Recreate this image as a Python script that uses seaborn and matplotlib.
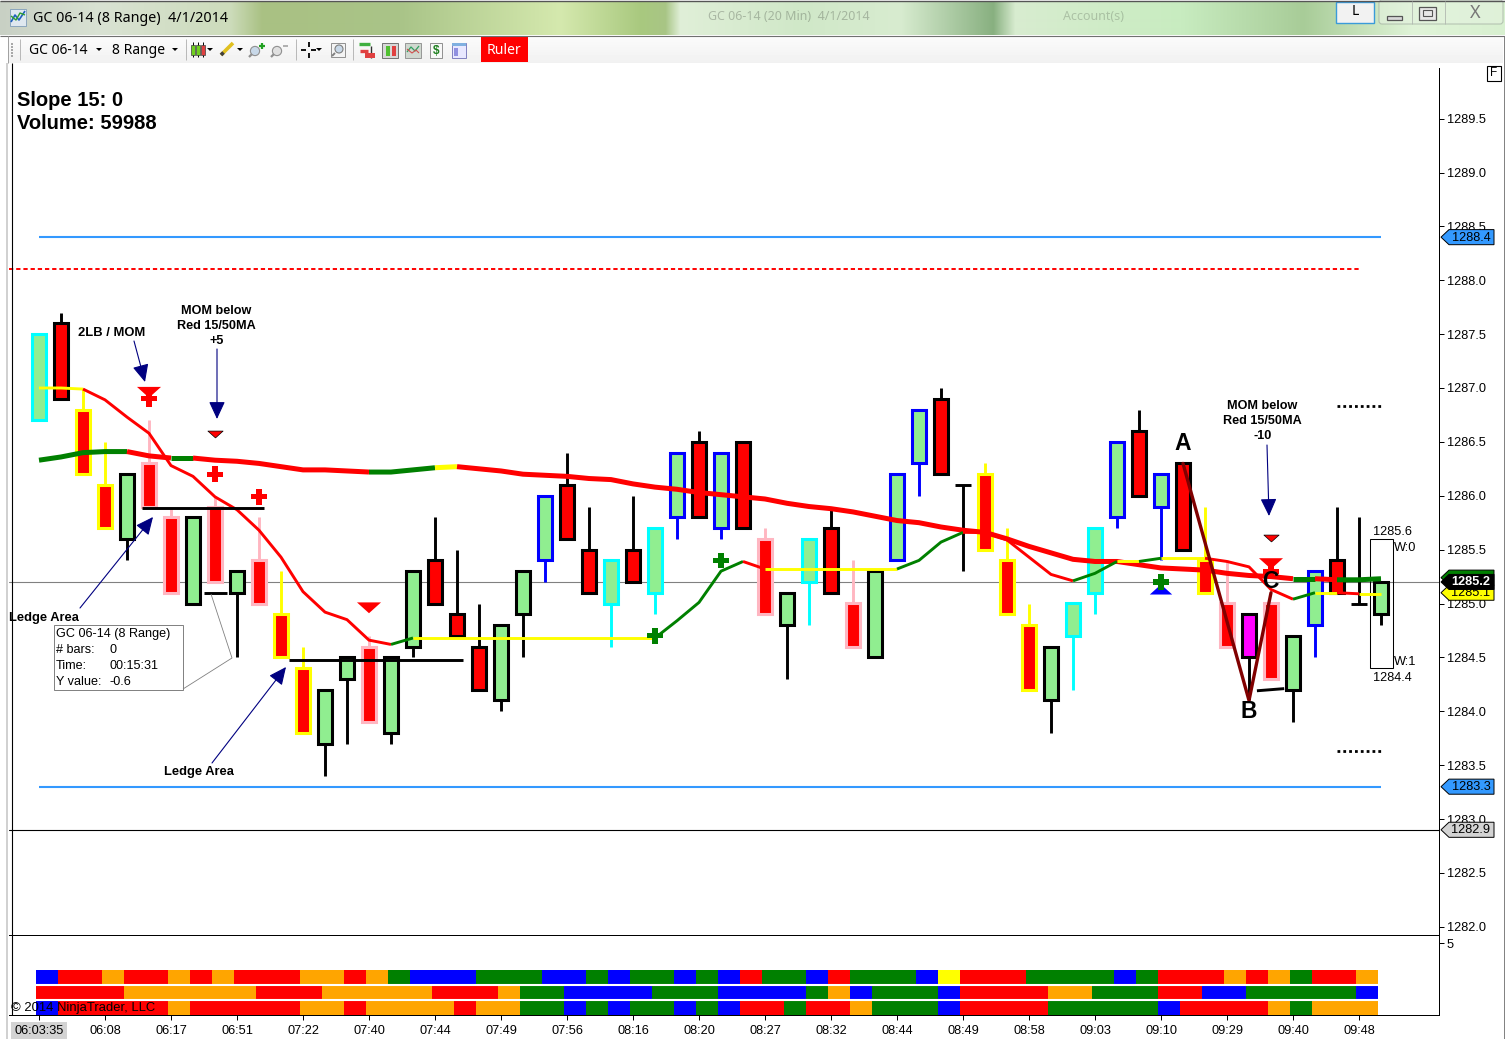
import numpy as np
import pandas as pd
import matplotlib
matplotlib.use("Agg")
import matplotlib.pyplot as plt
import matplotlib.transforms as mtrans
from matplotlib.colors import ListedColormap
from matplotlib.markers import MarkerStyle
from matplotlib.patches import Rectangle, Polygon, FancyBboxPatch
from matplotlib.path import Path
import seaborn as sns

# ---------- data ----------
body_top = [1287.5,1287.6,1286.8,1286.1,1286.2,1286.3,1285.8,1285.8,1285.9,1285.3,1285.4,1284.9,1284.4,1284.2,1284.5,1284.6,1284.5,1285.3,1285.4,1284.9,1284.6,1284.8,1285.3,1286.0,1286.1,1285.5,1285.4,1285.5,1285.7,1286.4,1286.5,1286.4,1286.5,1285.6,1285.1,1285.6,1285.7,1285.0,1285.3,1286.2,1286.8,1286.9,1286.1,1286.2,1285.4,1284.8,1284.6,1285.0,1285.7,1286.5,1286.6,1286.2,1286.3,1285.4,1285.0,1284.9,1285.0,1284.7,1285.3,1285.4,1285.0,1285.2]
body_bot = [1286.7,1286.9,1286.2,1285.7,1285.6,1285.9,1285.1,1285.0,1285.2,1285.1,1285.0,1284.5,1283.8,1283.7,1284.3,1283.9,1283.8,1284.6,1285.0,1284.7,1284.2,1284.1,1284.9,1285.4,1285.6,1285.1,1285.0,1285.2,1285.1,1285.8,1285.8,1285.7,1285.7,1284.9,1284.8,1285.2,1285.1,1284.6,1284.5,1285.4,1286.3,1286.2,1286.1,1285.5,1284.9,1284.2,1284.1,1284.7,1285.1,1285.8,1286.0,1285.9,1285.5,1285.1,1284.6,1284.5,1284.3,1284.2,1284.8,1285.1,1285.0,1284.9]
high = [1287.5,1287.7,1287.0,1286.5,1286.2,1286.7,1285.9,1285.8,1286.0,1285.3,1285.8,1285.3,1284.6,1284.2,1284.5,1284.7,1284.5,1285.3,1285.8,1285.5,1285.0,1284.8,1285.3,1286.0,1286.4,1285.9,1285.4,1286.0,1285.7,1286.4,1286.6,1286.4,1286.5,1285.7,1285.1,1285.6,1285.9,1285.4,1285.3,1286.2,1286.8,1287.0,1286.1,1286.3,1285.7,1285.0,1284.6,1285.0,1285.7,1286.5,1286.8,1286.2,1286.3,1285.9,1285.4,1284.9,1285.0,1284.7,1285.3,1285.9,1285.8,1285.2]
low = [1286.7,1286.9,1286.2,1285.7,1285.4,1285.9,1285.1,1285.0,1285.2,1284.5,1285.0,1284.5,1283.8,1283.4,1283.7,1283.9,1283.7,1284.5,1285.0,1284.7,1284.2,1284.0,1284.5,1285.2,1285.6,1285.1,1284.6,1285.2,1284.9,1285.6,1285.8,1285.6,1285.7,1284.9,1284.3,1284.8,1285.1,1284.6,1284.5,1285.4,1286.0,1286.2,1285.3,1285.5,1284.9,1284.2,1283.8,1284.2,1284.9,1285.7,1286.0,1285.4,1285.5,1285.1,1284.6,1284.1,1284.3,1283.9,1284.5,1285.1,1285.0,1284.8]
body_kind = "GRRRGRRGRGRRRGGRGGRRRGGGRRGRGGRGRRGGRGGRKRRRGGGGRGRRRMRGGRKG"
body_kind = "GRRRGRRGRGR" "RRGGRGGRRR" "GGGRRGRGGR" "GRRGGRRGGG" "RKRRRGGGGR" "GRRRMRGGRKG"
border_kind = "CKYYKPPKPKPYYKKPKKKKKKKBKKCKCBKBKPKCKPKBBKKYYYKCCBKBKYPKPKBKKK"
ma50 = [1286.33,1286.36,1286.40,1286.41,1286.41,1286.37,1286.35,1286.35,1286.33,1286.32,1286.30,1286.27,1286.24,1286.24,1286.23,1286.22,1286.22,1286.24,1286.26,1286.27,1286.25,1286.23,1286.20,1286.19,1286.18,1286.16,1286.15,1286.11,1286.08,1286.06,1286.03,1286.01,1285.99,1285.97,1285.93,1285.90,1285.88,1285.85,1285.81,1285.77,1285.75,1285.71,1285.68,1285.66,1285.60,1285.53,1285.47,1285.41,1285.39,1285.39,1285.36,1285.33,1285.32,1285.31,1285.28,1285.26,1285.25,1285.23,1285.23,1285.22,1285.22,1285.23]
ma50_colors = "GGGGRRGRRRRRRRRGGGY" + "R"*38 + "GRGG"
ma15 = [1287.00,1287.00,1286.99,1286.89,1286.73,1286.58,1286.28,1286.18,1285.99,1285.87,1285.68,1285.43,1285.11,1284.92,1284.85,1284.66,1284.62,1284.68,1284.68,1284.68,1284.68,1284.68,1284.68,1284.68,1284.68,1284.68,1284.68,1284.68,1284.68,1284.84,1285.01,1285.30,1285.39,1285.32,1285.32,1285.32,1285.32,1285.32,1285.32,1285.32,1285.40,1285.57,1285.66,1285.66,1285.59,1285.43,1285.27,1285.21,1285.28,1285.39,1285.39,1285.42,1285.42,1285.42,1285.39,1285.34,1285.13,1285.04,1285.10,1285.10,1285.09,1285.09]
ma15_colors = "YY" + "R"*14 + "G" + "Y"*11 + "GGGG" + "R" + "Y"*6 + "GGG" + "R"*5 + "GG" + "Y" + "G" + "YY" + "RRRR" + "G" + "Y" + "R" + "Y"
abc_bars = [52, 55, 56]
abc_prices = [1286.3, 1284.1, 1285.1]
price_ticks = [1282.0,1282.5,1283.0,1283.5,1284.0,1284.5,1285.0,1285.5,1286.0,1286.5,1287.0,1287.5,1288.0,1288.5,1289.0,1289.5]
time_labels = ["06:03:35","06:08","06:17","06:51","07:22","07:40","07:44","07:49","07:56","08:16","08:20","08:27","08:32","08:44","08:49","08:58","09:03","09:10","09:29","09:40","09:48"]
strip_top = "B"+"RR"+"O"+"RR"+"O"+"R"+"O"+"RRR"+"OO"+"R"+"O"+"G"+"BBB"+"GGG"+"BB"+"G"+"B"+"GG"+"B"+"G"+"B"+"R"+"GG"+"B"+"R"+"GGG"+"B"+"Y"+"RRR"+"GGGG"+"B"+"G"+"RRR"+"O"+"R"+"O"+"G"+"RR"+"O"
strip_mid = "RRRR"+"OOOOOO"+"RRR"+"OOOOO"+"RRR"+"O"+"GG"+"BBBB"+"GGG"+"BBBB"+"G"+"O"+"B"+"GGG"+"B"+"RRRR"+"OO"+"GGG"+"RR"+"BB"+"GGGGG"+"B"
strip_bot = "B"+"RRRRR"+"O"+"RRRRR"+"OO"+"R"+"OOOO"+"R"+"OO"+"GG"+"B"+"G"+"B"+"GG"+"B"+"G"+"B"+"RR"+"G"+"RR"+"O"+"GGG"+"B"+"RRRR"+"GGGGG"+"B"+"RRRR"+"O"+"G"+"OOO"
level_upper, level_lower = 1288.4, 1283.3
level_red = 1288.1
level_last = 1285.2
level_black = 1282.9
dots_hi, dots_lo = 1286.83, 1283.63
wbox_hi, wbox_lo = 1285.6, 1284.4
ledges = [(4.68,10.23,1285.89,1285.89),(11.36,19.27,1284.48,1284.48),(7.5,8.55,1285.1,1285.1),(55.36,56.6,1284.19,1284.21)]
tri_big = ([5,15,56],[1286.96,1284.96,1285.37])
tri_small = ([8,56],[1286.57,1285.61])
plus_red = ([5,8,10,56],[1286.9,1286.2,1285.99,1285.3])
plus_green = ([28,31,51],[1284.7,1285.4,1285.2])
tri_up = ([51],[1285.13])
tags = [(1288.4,"1288.4","#3399ff","black"),(1283.3,"1283.3","#3399ff","black"),(1282.9,"1282.9","#d3d3d3","black"),
        (1285.24,"","#008000","black"),(1285.1,"1285.1","#ffff00","black"),(1285.2,"1285.2","#000000","white")]

# ---------- set-up ----------
W, H = 1505, 1039
sns.set_theme(style="white", rc={"axes.edgecolor":"black","axes.linewidth":0.72,"xtick.color":"black","ytick.color":"black",
                                 "text.color":"black","axes.labelcolor":"black"})
plt.rcParams["font.family"] = ["Liberation Sans","DejaVu Sans"]
fig = plt.figure(figsize=(W/100,H/100),dpi=100,facecolor="white")
def pos(x0,y0,x1,y1):
    return [x0/W,1-y1/H,(x1-x0)/W,(y1-y0)/H]
COL = dict(G="#008000",R="#FF0000",Y="#FFFF00",C="#00FFFF",K="#000000",P="#FFB6C1",B="#0000FF",O="#FFA500",M="#FF00FF")
FILL = dict(G="#90EE90",R="#FF0000",M="#FF00FF",K="#000000")
XL = ((9-39)/22,(1439-39)/22)

ax = fig.add_axes(pos(9,68,1439,935))
ax.set_xlim(*XL)
ax.set_ylim(1287-(935-388)/107.75,1287+(388-68)/107.75)
for s in ["left","top","bottom"]:
    ax.spines[s].set_visible(False)
ax.yaxis.tick_right()
ax.set_yticks(price_ticks)
ax.set_yticklabels([f"{p:.1f}" for p in price_ticks],fontsize=9.2)
ax.tick_params(axis="y",length=3.6,width=0.72,pad=2.0,right=True)
ax.set_xticks([])

bars = np.arange(len(body_top))
top, bot = np.array(body_top), np.array(body_bot)
edge = [COL[c] for c in border_kind]
face = [FILL[c] for c in body_kind]

# levels
ax.axhline(level_last,color="#808080",lw=0.8,zorder=1)
ax.axhline(level_black,color="black",lw=0.8,zorder=1)
ax.hlines([level_upper,level_lower],0,61,color="#3399ff",lw=1.5,zorder=1)
ax.hlines(level_red,XL[0],60,color="red",lw=1.4,linestyles=(0,(2.2,1.5)),zorder=1)
ax.hlines([dots_hi,dots_lo],59,61,color="black",lw=2.0,linestyles=(0,(1.0,1.1)),zorder=1)
ax.add_patch(Rectangle((60.5,wbox_lo),1.05,wbox_hi-wbox_lo,fill=False,ec="black",lw=0.75,zorder=1))

# candles
ax.vlines(bars,low,high,colors=edge,lw=2.1,capstyle="butt",zorder=2)
solid = top>bot
ax.bar(bars[solid],(top-bot)[solid],bottom=bot[solid],width=14/22,color=np.array(face)[solid],
       edgecolor=np.array(edge)[solid],linewidth=2.2,zorder=3)
ax.hlines(top[~solid],bars[~solid]-0.36,bars[~solid]+0.36,colors="black",lw=2.1,zorder=3)

# moving averages through seaborn
def draw_ma(values,codes,lw,z):
    vals = np.array(values)
    start = 0
    for k in range(1,len(codes)+1):
        if k==len(codes) or codes[k]!=codes[start]:
            xs = bars[start:k+1]
            sns.lineplot(x=xs,y=vals[start:k+1],color=COL[codes[start]],lw=lw,estimator=None,sort=False,
                         legend=False,ax=ax,zorder=z,solid_capstyle="butt")
            start = k
draw_ma(ma50,ma50_colors,3.6,6)
draw_ma(ma15,ma15_colors,2.1,7)
for a,b,c,d in ledges:
    sns.lineplot(x=[a,b],y=[c,d],color="black",lw=2.1,estimator=None,sort=False,legend=False,ax=ax,zorder=8,solid_capstyle="butt")
sns.lineplot(x=abc_bars,y=abc_prices,color="#800000",lw=2.4,estimator=None,sort=False,legend=False,ax=ax,zorder=9)

# markers
down = MarkerStyle(Path([(-1,0.45),(1,0.45),(0,-0.45),(-1,0.45)],closed=True))
upm = MarkerStyle(Path([(-1,-0.45),(1,-0.45),(0,0.45),(-1,-0.45)],closed=True))
sns.scatterplot(x=tri_big[0],y=tri_big[1],marker=down,s=300,color="red",edgecolor="none",linewidth=0,ax=ax,zorder=10,legend=False)
sns.scatterplot(x=tri_small[0],y=tri_small[1],marker=down,s=120,color="red",edgecolor="black",linewidth=0.5,ax=ax,zorder=10,legend=False)
sns.scatterplot(x=plus_red[0],y=plus_red[1],marker="P",s=125,color="red",edgecolor="none",linewidth=0,ax=ax,zorder=10,legend=False)
sns.scatterplot(x=plus_green[0],y=plus_green[1],marker="P",s=125,color="#008000",edgecolor="none",linewidth=0,ax=ax,zorder=10,legend=False)
sns.scatterplot(x=tri_up[0],y=tri_up[1],marker=upm,s=260,color="blue",edgecolor="none",linewidth=0,ax=ax,zorder=9.5,legend=False)

# ---------- lower panel ----------
ax2 = fig.add_axes(pos(9,935,1439,1015))
ax2.set_xlim(*XL)
ax2.set_ylim(0,5.556)
ax2.spines["left"].set_visible(False)
ax2.yaxis.tick_right()
ax2.set_yticks([5]); ax2.set_yticklabels(["5"],fontsize=9.2)
ax2.tick_params(axis="y",length=3.6,width=0.72,pad=2.0,right=True)
ticks = bars[::3][:len(time_labels)]
ax2.set_xticks(ticks); ax2.set_xticklabels(time_labels,fontsize=9.2)
ax2.tick_params(axis="x",length=3.6,width=0.72,pad=3.5,bottom=True)
ax2.get_xticklabels()[0].set_bbox(dict(facecolor="#d3d3d3",edgecolor="none",pad=2.4))

ax3 = fig.add_axes(pos(36,970,1378,1015))
order = "BRGOY"
grid = np.array([[order.index(c) for c in row] for row in (strip_top,strip_mid,strip_bot)])
sns.heatmap(grid,ax=ax3,cbar=False,cmap=ListedColormap([COL[c] for c in order]),vmin=-0.5,vmax=4.5,xticklabels=False,yticklabels=False)
ax3.hlines([1,2],0,grid.shape[1],color="white",lw=1.5)

# ---------- overlay in pixel units: window chrome and notes ----------
ov = fig.add_axes([0,0,1,1],zorder=20)
ov.set_xlim(0,W); ov.set_ylim(H,0); ov.axis("off"); ov.patch.set_alpha(0)
UI = ["Noto Sans","DejaVu Sans"]
def rect(x0,y0,x1,y1,fc="none",ec="none",lw=0.8,z=2,**k):
    ov.add_patch(Rectangle((x0,y0),x1-x0,y1-y0,facecolor=fc,edgecolor=ec,lw=lw,zorder=z,**k))
def line(xs,ys,c="black",lw=0.75,z=3,**k):
    ov.plot(xs,ys,color=c,lw=lw,zorder=z,solid_capstyle="butt",**k)
def txt(x,y,s,size=9,ha="left",va="center",w="normal",fam=None,c="black",z=5,**k):
    ov.text(x,y,s,fontsize=size,ha=ha,va=va,fontweight=w,family=fam or ["Liberation Sans","DejaVu Sans"],color=c,zorder=z,**k)

# title band
stops_x = [0,100,230,262,400,560,640,665,680,800,900,993,1015,1181,1303,1413,1505]
stops = ["#c8d0c4","#d9e2d3","#cddcbb","#a9c183","#a9c488","#d5e9ae","#a9c97f","#a8c585","#e0efd8","#d0e8c8","#d8ecd0","#88b080","#d8ecd0","#c8ecc0","#a8cc98","#e0f4d8","#d8f0d0"]
rgb = np.array([matplotlib.colors.to_rgb(c) for c in stops])
xx = np.arange(W)
band = np.stack([np.interp(xx,stops_x,rgb[:,k]) for k in range(3)],axis=1)[None,:,:]
ov.imshow(band,extent=(0,W,35,1),aspect="auto",zorder=1,interpolation="bilinear")
ov.set_xlim(0,W); ov.set_ylim(H,0)
line([0,W],[0.5,0.5],c="#555555",lw=1)
line([0,W],[35.5,35.5],c="#707070",lw=0.8)
# app icon
rect(10,9,26,26,fc="#dfe8f0",ec="#7f9db9",lw=0.6)
line([11,15,19,25],[22,15,20,11],c="#1f5fbf",lw=1.2)
line([11,16,20,25],[16,20,13,15],c="#2f9f2f",lw=1.0)
txt(33,19,"GC 06-14 (8 Range)  4/1/2014",size=10.3,fam=UI)
txt(708,17,"GC 06-14 (20 Min)  4/1/2014",size=9,fam=UI,alpha=0.22)
txt(1063,17,"Account(s)",size=9,fam=UI,alpha=0.18)
# window buttons
rect(1336,2,1374,23,fc="#f2f2f2",ec="#3a9bd9",lw=1)
txt(1355,11.5,"L",size=10,ha="center",fam=UI)
ov.add_patch(FancyBboxPatch((1379,0),124,24,boxstyle="round,pad=0,rounding_size=3",fc="#e4f2df",ec="#9aa59a",lw=0.8,zorder=2,alpha=0.6))
line([1412,1412],[1,24],c="#b0b8b0",lw=0.6); line([1445,1445],[1,24],c="#b0b8b0",lw=0.6)
rect(1387,16,1402,20,fc="#d8d8d8",ec="#555555",lw=0.9,z=3)
rect(1419,7,1436,20,fc="#e8e8e8",ec="#555555",lw=0.9,z=3)
rect(1423,10,1432,16,fc="none",ec="#555555",lw=0.8,z=4)
txt(1475,13,"X",size=13,ha="center",fam=UI,c="#777777")
# toolbar
tb = np.linspace(0.985,0.945,27)[:,None]
ov.imshow(tb,extent=(8,1503,63,36),aspect="auto",cmap="gray",vmin=0,vmax=1,zorder=1)
ov.set_xlim(0,W); ov.set_ylim(H,0)
line([8,8],[36,63],c="#a0a0a0",lw=0.7)
line([7,7],[63,H],c="#c8c8c8",lw=1.2)
line([1503.5,1503.5],[36,H],c="#808080",lw=0.7)
for yy in range(43,57,3):
    rect(11,yy,13,yy+2,fc="#a8a8a8",z=3)
for xs in (20,186,296,353):
    line([xs,xs],[39,60],c="#b8b8b8",lw=0.7)
txt(29,50,"GC 06-14",size=10,fam=UI)
txt(112,50,"8 Range",size=10,fam=UI)
for tx in (99,175,210,240,319):
    ov.add_patch(Polygon([(tx-3,48),(tx+3,48),(tx,51)],fc="black",ec="none",zorder=3))
for cx,cc in ((193,"#70d020"),(198,"#70d020"),(203,"#e04040")):
    line([cx,cx],[42,57],c="black",lw=0.7)
    rect(cx-2,45,cx+2,55,fc=cc,ec="#404040",lw=0.5,z=4)
line([221,233],[55,43],c="#e0c020",lw=2.6)
line([221,223.5],[55,52.5],c="#404040",lw=2.6,z=4)
for cx in (255,277):
    ov.add_patch(plt.Circle((cx,51),4.6,fc="#c8d8e8" if cx==255 else "#e0e0e0",ec="#909090",lw=0.8,zorder=3))
    line([cx-6,cx-3],[57,54],c="#909090",lw=1.6)
line([259,265],[46,46],c="#20a020",lw=1.6); line([262,262],[43,49],c="#20a020",lw=1.6)
line([283,288],[46,46],c="#b0b0b0",lw=1.4)
line([301,306],[50,50],lw=1.3); line([311,316],[50,50],lw=1.3); line([308.5,308.5],[42,47],lw=1.3); line([308.5,308.5],[53,58],lw=1.3)
rect(331,43,345,57,fc="#f4f4f4",ec="#909090",lw=0.7)
ov.add_patch(plt.Circle((339,49),4,fc="#c8d8e8",ec="#808080",lw=0.8,zorder=3))
line([335,332],[53,56],c="#808080",lw=1.4)
line([359,370],[44,44],c="#40b040",lw=2.4); line([360,368],[51,51],c="#e04040",lw=2.4); line([371,371],[46,58],c="#303030",lw=1.0); rect(365,53,375,58,fc="#e04040",z=3)
rect(382,43,398,58,fc="#d8d8d8",ec="#606060",lw=0.6)
rect(386,46,390,56,fc="#50c030",z=3); rect(392,46,396,56,fc="#e04040",z=3)
rect(405,43,421,58,fc="#d0d8d0",ec="#8a8a8a",lw=0.6)
line([407,411,415,419],[52,47,51,46],c="#30a060",lw=0.9); line([407,412,416,419],[49,53,50,53],c="#d05050",lw=0.8)
rect(430,43,442,58,fc="#f8f8f8",ec="#808080",lw=0.6)
txt(436,50.5,"$",size=8.5,ha="center",c="#208020",w="bold")
rect(452,43,466,58,fc="#e8e8ff",ec="#8080c0",lw=0.7)
rect(452,43,466,46,fc="#80b0e0",z=3)
rect(454,48,458,56,fc="#9090e0",z=3)
rect(481,37,528,62,fc="#ff0000")
txt(504.5,50.5,"Ruler",size=10,ha="center",fam=UI,c="white")
# axis furniture
line([12,12],[63,1015],lw=0.8)
rect(1487,66,1501,81,fc="white",ec="black",lw=0.8)
txt(1494,73.5,"F",size=8.5,ha="center")

# notes
txt(17,101,"Slope 15: 0",size=14.5,w="bold")
txt(17,123.5,"Volume: 59988",size=14.5,w="bold")
txt(78,332.5,"2LB / MOM",size=9.4,w="bold")
for yy,s in zip((311,326,341),("MOM below","Red 15/50MA","+5")):
    txt(216.5,yy,s,size=9.1,ha="center",w="bold")
for yy,s in zip((406,421,436),("MOM below","Red 15/50MA","-10")):
    txt(1262.5,yy,s,size=9.1,ha="center",w="bold")
txt(9,617.5,"Ledge Area",size=9.3,w="bold")
txt(164,772.5,"Ledge Area",size=9.3,w="bold")
txt(1183,443.5,"A",size=16.5,ha="center",w="bold")
txt(1248.5,712,"B",size=16.5,ha="center",w="bold")
txt(1270,581,"C",size=16.5,ha="center",w="bold",z=1.5)
for a,b in (((134,341),(145,382)),((217,349),(217,419)),((80,608),(153,517)),((212,763),(286,667)),((1267,445),(1269,516))):
    ov.annotate("",xy=b,xytext=a,zorder=6,arrowprops=dict(arrowstyle="-|>,head_length=1.08,head_width=0.5",mutation_scale=10,
                color="#000080",lw=0.8,shrinkA=0,shrinkB=0))
# tooltip
rect(54,625,183,690,fc="white",ec="#808080",lw=0.7)
line([211,232,183],[594,658,689],c="#808080",lw=0.6)
txt(56,634,"GC 06-14 (8 Range)",size=9.1)
for yy,a,b in ((650,"# bars:","0"),(666,"Time:","00:15:31"),(682,"Y value:","-0.6")):
    txt(56,yy,a,size=9.1); txt(110,yy,b,size=9.1)
txt(1373,532,"1285.6",size=9.2)
txt(1373,678,"1284.4",size=9.2)
txt(1394,548,"W:0",size=9.2)
txt(1394,662,"W:1",size=9.2)
txt(11,1007.5,"\u00a9 2014 NinjaTrader, LLC",size=9.4)

# price tags sit on the axis: x in pixels, y in prices
blend = mtrans.blended_transform_factory(ov.transData,ax.transData)
for n,(p,s,fc,tc) in enumerate(tags):
    d = 0.07
    ax.add_patch(Polygon([(1441,p),(1449,p+d),(1494,p+d),(1494,p-d),(1449,p-d)],closed=True,facecolor=fc,edgecolor="black",lw=0.7,
                         transform=blend,clip_on=False,zorder=30+n))
    if s:
        # the yellow tag is overlapped by the black one, so its label sits low inside the tag
        ax.text(1471,p-0.005,s,transform=blend,ha="center",va="center",fontsize=9.2,color=tc,clip_on=False,zorder=30.5+n,
                fontweight="bold" if tc=="white" else "normal")

fig.savefig("out.png",dpi=100,facecolor="white")
